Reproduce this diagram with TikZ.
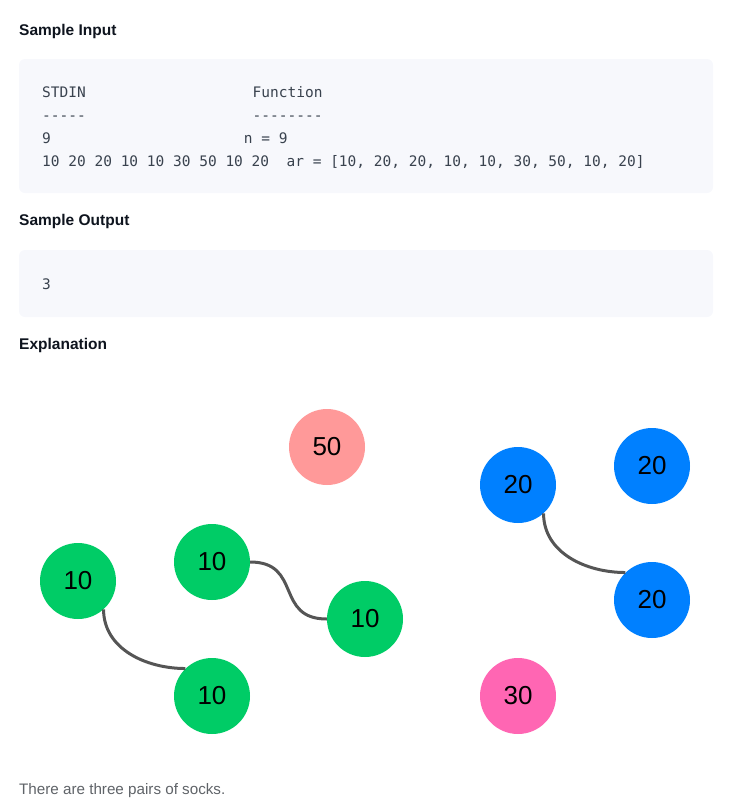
\documentclass[tikz,border=0pt]{standalone}
\usepackage{fontspec}
\setmainfont{Liberation Sans}
\setmonofont{DejaVu Sans Mono}
\usepackage{tikz}
\definecolor{headink}{HTML}{0E141E}
\definecolor{codeink}{HTML}{39424E}
\definecolor{noteink}{HTML}{5F6368}
\definecolor{boxfill}{HTML}{F7F8FC}
\definecolor{sockgreen}{HTML}{00CC66}
\definecolor{sockblue}{HTML}{0080FF}
\definecolor{sockpink}{HTML}{FF66B3}
\definecolor{salmon}{HTML}{FF9999}
\definecolor{linkgray}{HTML}{555555}

\begin{document}
\begin{tikzpicture}[x=1pt, y=1pt,
  heading/.style={anchor=base west, inner sep=0, text=headink, font=\fontsize{15.5}{18}\selectfont\bfseries},
  codetext/.style={anchor=base west, inner sep=0, text=codeink, font=\ttfamily\fontsize{14.5}{17}\selectfont},
  notetext/.style={anchor=base west, inner sep=0, text=noteink, font=\fontsize{15.2}{18}\selectfont},
  codebox/.style={fill=boxfill, rounded corners=6},
  sock/.style={circle, minimum size=76, inner sep=0, font=\fontsize{26}{30}\selectfont},
  pair/.style={line width=3, draw=linkgray}]

\useasboundingbox (0,0) rectangle (738,-806);

% sample input
\node[heading] (inhead) at (19,-35.5) {Sample Input};
\fill[codebox] (19,-59) rectangle (713,-193);
\node[codetext] (stdin) at (42,-97.5) {STDIN};
\node[codetext] (func) at (252.5,-97.5) {Function};
\node[codetext] (rule1) at (42,-120.5) {-----};
\node[codetext] (rule2) at (252.5,-120.5) {--------};
\node[codetext] (nval) at (42,-143.5) {9};
\node[codetext] (nset) at (243.7,-143.5) {n = 9};
\node[codetext] (arline) at (42,-166.5) {10 20 20 10 10 30 50 10 20\ \ ar = [10, 20, 20, 10, 10, 30, 50, 10, 20]};

% sample output
\node[heading] (outhead) at (19,-225.5) {Sample Output};
\fill[codebox] (19,-250) rectangle (713,-317);
\node[codetext] (result) at (42,-289.5) {3};

% explanation
\node[heading] (exphead) at (19,-349.5) {Explanation};

% socks
\node[sock, fill=salmon] (s50) at (327,-447) {50};
\node[sock, fill=sockgreen] (g1) at (78,-581) {10};
\node[sock, fill=sockgreen] (g2) at (212,-562) {10};
\node[sock, fill=sockgreen] (g3) at (365,-619) {10};
\node[sock, fill=sockgreen] (g4) at (212,-696) {10};
\node[sock, fill=sockblue] (b1) at (518,-485) {20};
\node[sock, fill=sockblue] (b2) at (652,-466) {20};
\node[sock, fill=sockblue] (b3) at (652,-600) {20};
\node[sock, fill=sockpink] (p30) at (518,-696) {30};

% pairs
\draw[pair] (g1.-48) to[out=-90, in=180] (g4.134);
\draw[pair] (g2.east) to[out=0, in=180, looseness=1.4] (g3.west);
\draw[pair] (b1.-48) to[out=-90, in=180] (b3.134);

\node[notetext] (note) at (19,-794) {There are three pairs of socks.};

\end{tikzpicture}
\end{document}
